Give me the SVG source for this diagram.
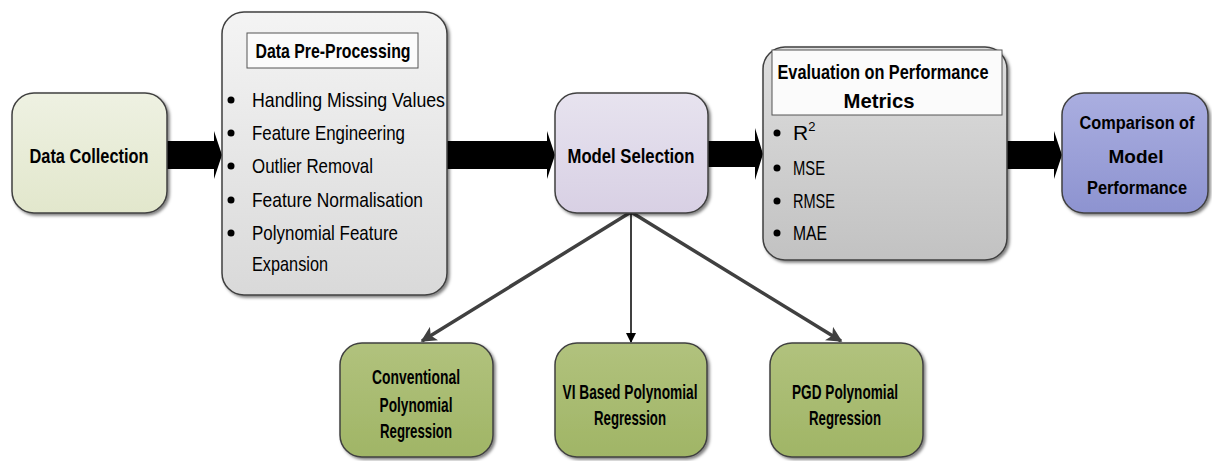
<svg xmlns="http://www.w3.org/2000/svg" width="1212" height="461" viewBox="0 0 1212 461">
<defs>
<linearGradient id="gCollect" x1="0" y1="0" x2="0" y2="1"><stop offset="0" stop-color="#eef1e2"/><stop offset="1" stop-color="#e2e7cc"/></linearGradient>
<linearGradient id="gPre" x1="0" y1="0" x2="0" y2="1"><stop offset="0" stop-color="#f4f4f4"/><stop offset="1" stop-color="#d9d9d9"/></linearGradient>
<linearGradient id="gModel" x1="0" y1="0" x2="0" y2="1"><stop offset="0" stop-color="#e7e3ef"/><stop offset="1" stop-color="#d8d0e4"/></linearGradient>
<linearGradient id="gEval" x1="0" y1="0" x2="0" y2="1"><stop offset="0" stop-color="#dedede"/><stop offset="1" stop-color="#c2c2c2"/></linearGradient>
<linearGradient id="gComp" x1="0" y1="0" x2="0" y2="1"><stop offset="0" stop-color="#aaaee0"/><stop offset="1" stop-color="#8d93d0"/></linearGradient>
<linearGradient id="gGreen" x1="0" y1="0" x2="0" y2="1"><stop offset="0" stop-color="#b1c27d"/><stop offset="1" stop-color="#a0b566"/></linearGradient>
<filter id="sh" x="-10%" y="-10%" width="125%" height="125%"><feDropShadow dx="2" dy="2" stdDeviation="1.5" flood-color="#000" flood-opacity="0.5"/></filter>
<marker id="mGray" viewBox="0 0 10 10" refX="9" refY="5" markerWidth="4.5" markerHeight="4.5" orient="auto" markerUnits="strokeWidth"><path d="M0,0 L10,5 L0,10 L2.5,5 Z" fill="#404040"/></marker>
<marker id="mBlack" viewBox="0 0 10 10" refX="9" refY="5" markerWidth="7" markerHeight="7" orient="auto" markerUnits="strokeWidth"><path d="M0,0 L10,5 L0,10 Z" fill="#000"/></marker>
</defs>
<style>
.box{stroke:#404040;stroke-width:1.5;filter:url(#sh)}
.t{font-family:"Liberation Sans",Arial,sans-serif;font-size:21px;fill:#000}
.b{font-weight:bold;text-anchor:middle}
.s{font-size:19px}
.tb{fill:#fbfbfb;stroke:#555;stroke-width:1}
.blk{fill:#000}
</style>
<g id="connectors">
<polygon class="blk" points="167,141 214,141 214,131 222,155 214,179 214,169 167,169"/>
<polygon class="blk" points="447,141 547,141 547,131 555,155 547,179 547,169 447,169"/>
<polygon class="blk" points="708,141 755,141 755,128 763,154 755,180 755,167 708,167"/>
<polygon class="blk" points="1007,141 1054,141 1054,131 1062,155 1054,179 1054,169 1007,169"/>
<line x1="631" y1="212" x2="422" y2="341" stroke="#404040" stroke-width="3.5" marker-end="url(#mGray)"/>
<line x1="631" y1="212" x2="841" y2="341" stroke="#404040" stroke-width="3.5" marker-end="url(#mGray)"/>
<line x1="631" y1="212" x2="631" y2="342" stroke="#000" stroke-width="1.5" marker-end="url(#mBlack)"/>
</g>
<g id="data-collection">
<rect class="box" x="12" y="93" width="155" height="120" rx="22" fill="url(#gCollect)"/>
<text class="t b" x="89" y="163" textLength="119" lengthAdjust="spacingAndGlyphs">Data Collection</text>
</g>
<g id="pre-processing">
<rect class="box" x="222" y="12" width="225" height="283" rx="22" fill="url(#gPre)"/>
<rect class="tb" x="247" y="33" width="171" height="35"/>
<text class="t b" x="333" y="58" textLength="155" lengthAdjust="spacingAndGlyphs">Data Pre-Processing</text>
<circle cx="231" cy="100" r="3.5"/><text class="t" x="252" y="107" textLength="193" lengthAdjust="spacingAndGlyphs">Handling Missing Values</text>
<circle cx="231" cy="133" r="3.5"/><text class="t" x="252" y="140" textLength="153" lengthAdjust="spacingAndGlyphs">Feature Engineering</text>
<circle cx="231" cy="166" r="3.5"/><text class="t" x="252" y="173" textLength="121" lengthAdjust="spacingAndGlyphs">Outlier Removal</text>
<circle cx="231" cy="200" r="3.5"/><text class="t" x="252" y="207" textLength="171" lengthAdjust="spacingAndGlyphs">Feature Normalisation</text>
<circle cx="231" cy="233" r="3.5"/><text class="t" x="252" y="240" textLength="146" lengthAdjust="spacingAndGlyphs">Polynomial Feature</text>
<text class="t" x="252" y="271" textLength="76" lengthAdjust="spacingAndGlyphs">Expansion</text>
</g>
<g id="model-selection">
<rect class="box" x="555" y="93" width="153" height="120" rx="22" fill="url(#gModel)"/>
<text class="t b" x="631" y="163" textLength="127" lengthAdjust="spacingAndGlyphs">Model Selection</text>
</g>
<g id="evaluation">
<rect class="box" x="763" y="47" width="244" height="213" rx="22" fill="url(#gEval)"/>
<rect class="tb" x="772" y="50" width="230" height="65"/>
<text class="t b" x="883" y="79" textLength="211" lengthAdjust="spacingAndGlyphs">Evaluation on Performance</text>
<text class="t b" x="879" y="108" textLength="71" lengthAdjust="spacingAndGlyphs">Metrics</text>
<circle cx="777" cy="133" r="3.5"/><text class="t" x="793" y="140">R<tspan font-size="13" dy="-9">2</tspan></text>
<circle cx="777" cy="168" r="3.5"/><text class="t" x="793" y="175" textLength="32" lengthAdjust="spacingAndGlyphs">MSE</text>
<circle cx="777" cy="201" r="3.5"/><text class="t" x="793" y="208" textLength="42" lengthAdjust="spacingAndGlyphs">RMSE</text>
<circle cx="777" cy="233" r="3.5"/><text class="t" x="793" y="240" textLength="34" lengthAdjust="spacingAndGlyphs">MAE</text>
</g>
<g id="comparison">
<rect class="box" x="1062" y="93" width="146" height="120" rx="22" fill="url(#gComp)"/>
<text class="t b s" x="1137" y="129" textLength="115" lengthAdjust="spacingAndGlyphs">Comparison of</text>
<text class="t b s" x="1136" y="163" textLength="55" lengthAdjust="spacingAndGlyphs">Model</text>
<text class="t b s" x="1137" y="194" textLength="100" lengthAdjust="spacingAndGlyphs">Performance</text>
</g>
<g id="conventional">
<rect class="box" x="340" y="343" width="153" height="114" rx="22" fill="url(#gGreen)"/>
<text class="t b" x="416" y="384" textLength="88" lengthAdjust="spacingAndGlyphs">Conventional</text>
<text class="t b" x="416" y="412" textLength="73" lengthAdjust="spacingAndGlyphs">Polynomial</text>
<text class="t b" x="416" y="438" textLength="72" lengthAdjust="spacingAndGlyphs">Regression</text>
</g>
<g id="vi-based">
<rect class="box" x="555" y="343" width="152" height="114" rx="22" fill="url(#gGreen)"/>
<text class="t b" x="630" y="399" textLength="135" lengthAdjust="spacingAndGlyphs">VI Based Polynomial</text>
<text class="t b" x="630" y="425" textLength="72" lengthAdjust="spacingAndGlyphs">Regression</text>
</g>
<g id="pgd">
<rect class="box" x="770" y="343" width="153" height="114" rx="22" fill="url(#gGreen)"/>
<text class="t b" x="845" y="399" textLength="106" lengthAdjust="spacingAndGlyphs">PGD Polynomial</text>
<text class="t b" x="845" y="425" textLength="72" lengthAdjust="spacingAndGlyphs">Regression</text>
</g>
</svg>
